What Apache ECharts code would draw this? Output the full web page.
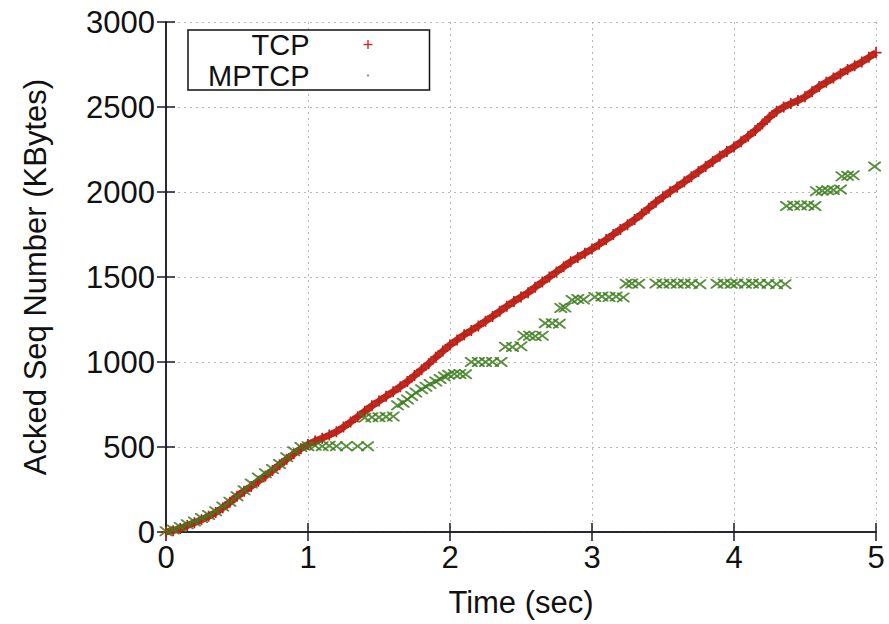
<!DOCTYPE html>
<html>
<head>
<meta charset="utf-8">
<script src="https://cdn.jsdelivr.net/npm/echarts@6/dist/echarts.min.js"></script>
<style>
html,body{margin:0;padding:0;background:#fff;}
#chart{width:889px;height:624px;}
</style>
</head>
<body>
<div id="chart"></div>
<script>
// ---- data ----
const seriesNames = ['TCP', 'MPTCP'];
const xTickLabels = ['0', '1', '2', '3', '4', '5'];
const yTickLabels = ['0', '500', '1000', '1500', '2000', '2500', '3000'];

const tcpTime = [0.00,0.05,0.10,0.15,0.20,0.25,0.30,0.35,0.40,0.45,0.50,0.55,0.60,0.65,0.70,0.75,0.80,0.85,0.90,0.95,
  1.00,1.05,1.10,1.15,1.20,1.25,1.30,1.35,1.40,1.45,1.50,1.55,1.60,1.65,1.70,1.75,1.80,1.85,1.90,1.95,
  2.00,2.05,2.10,2.15,2.20,2.25,2.30,2.35,2.40,2.45,2.50,2.55,2.60,2.65,2.70,2.75,2.80,2.85,2.90,2.95,
  3.00,3.05,3.10,3.15,3.20,3.25,3.30,3.35,3.40,3.45,3.50,3.55,3.60,3.65,3.70,3.75,3.80,3.85,3.90,3.95,
  4.00,4.05,4.10,4.15,4.20,4.25,4.30,4.35,4.40,4.45,4.50,4.55,4.60,4.65,4.70,4.75,4.80,4.85,4.90,4.95,5.00];
const tcpSeq = [0,8,20,38,55,72,92,115,142,175,210,240,268,298,330,362,395,428,460,490,
  515,535,552,570,590,617,647,678,710,742,770,798,825,855,885,920,955,990,1028,1064,
  1100,1130,1160,1186,1212,1240,1268,1298,1328,1356,1382,1408,1440,1470,1500,1530,1560,1590,1615,1640,
  1665,1692,1720,1750,1780,1808,1838,1870,1905,1940,1972,2002,2030,2060,2090,2120,2150,2180,2210,2238,
  2265,2295,2328,2362,2400,2440,2475,2500,2520,2538,2560,2590,2620,2645,2670,2695,2720,2742,2765,2792,2820];

const mptcpTime = [0.00,0.05,0.10,0.15,0.20,0.25,0.30,0.35,0.40,0.45,0.50,0.55,0.60,0.65,0.70,0.75,0.80,0.85,0.90,0.95,
  1.00,1.05,1.10,1.15,1.20,1.27,1.35,1.42,
  1.40,1.45,1.50,1.55,1.60,
  1.63,1.67,1.70,1.73,1.76,1.80,1.83,1.86,1.90,1.93,1.96,1.99,2.03,2.07,2.11,
  2.15,2.20,2.25,2.30,2.36,
  2.39,2.44,2.50,
  2.52,2.56,2.60,2.65,
  2.67,2.72,2.77,
  2.78,2.81,
  2.86,2.90,2.94,
  3.02,3.07,3.12,3.17,3.22,
  3.24,3.28,3.33,3.45,3.50,3.55,3.60,3.65,3.70,3.76,
  3.88,3.93,3.98,4.02,4.08,4.13,4.18,4.24,4.30,4.36,
  4.37,4.42,4.47,4.52,4.57,
  4.58,4.62,4.66,4.70,4.75,
  4.76,4.80,4.84,
  4.99];
const mptcpSeq = [5,15,30,45,62,82,100,122,150,178,210,245,285,320,345,370,400,440,475,500,
  505,508,505,508,505,505,505,505,
  672,675,675,678,680,
  745,760,780,800,820,840,855,870,885,900,915,925,930,930,928,
  1000,1000,1000,1000,1000,
  1090,1088,1092,
  1155,1155,1152,1155,
  1228,1228,1225,
  1318,1320,
  1365,1370,1368,
  1382,1385,1382,1385,1380,
  1460,1462,1460,1462,1460,1462,1460,1462,1460,1458,
  1460,1462,1460,1462,1460,1462,1460,1460,1458,1458,
  1918,1920,1920,1922,1918,
  2005,2008,2010,2012,2015,
  2092,2095,2098,
  2150];

// ---- build chart ----
const FONT = 'Liberation Sans, Arial, sans-serif';
const FS = 31;
const plusPath = 'path://M4.2,0H5.8V4.2H10V5.8H5.8V10H4.2V5.8H0V4.2H4.2Z';
const crossPath = 'path://M0,0L1.2,0L5,3.8L8.8,0L10,0L10,1.2L6.2,5L10,8.8L10,10L8.8,10L5,6.2L1.2,10L0,10L0,8.8L3.8,5L0,1.2Z';
const dotPath = 'path://M0,0M10,10M3.8,3.8H6.2V6.2H3.8Z';

const tcpData = tcpTime.map((t, i) => [t, tcpSeq[i]]);
const mptcpData = mptcpTime.map((t, i) => [t, mptcpSeq[i]]);

const xMin = +xTickLabels[0], xMax = +xTickLabels[xTickLabels.length - 1];
const yMin = +yTickLabels[0], yMax = +yTickLabels[yTickLabels.length - 1];
const yInterval = +yTickLabels[1] - +yTickLabels[0];
const xInterval = +xTickLabels[1] - +xTickLabels[0];

const axisLine = {show: true, lineStyle: {color: '#1a1a2a', width: 1.5}};
const tick = {show: true, inside: true, length: 9, lineStyle: {color: '#1a1a2a', width: 1.5}};
const chart = echarts.init(document.getElementById('chart'), null, {renderer: 'svg'});
chart.setOption({
  animation: false,
  backgroundColor: '#fff',
  textStyle: {fontFamily: FONT},
  grid: {left: 166, right: 13, top: 22, bottom: 92, containLabel: false},
  legend: {
    left: 188, top: 30,
    orient: 'vertical',
    align: 'right',
    selectedMode: false,
    backgroundColor: '#fff',
    borderColor: '#111',
    borderWidth: 1.5,
    borderRadius: 0,
    padding: [0, 57, 0, 20],
    itemGap: 2,
    itemWidth: 9,
    itemHeight: 9,
    textStyle: {fontFamily: FONT, fontSize: 29, lineHeight: 29, color: '#111', padding: [0, 49, 0, 0]},
    data: [
      {name: seriesNames[0], icon: plusPath, itemStyle: {color: '#d0302a'}},
      {name: seriesNames[1], icon: dotPath, itemStyle: {color: '#7f9a55'}}
    ]
  },
  xAxis: [{
    type: 'value', min: xMin, max: xMax, interval: xInterval,
    name: 'Time (sec)', nameLocation: 'middle', nameGap: 55,
    nameTextStyle: {fontFamily: FONT, fontSize: FS, color: '#111'},
    axisLine: axisLine, axisTick: tick,
    axisLabel: {fontFamily: FONT, fontSize: FS, color: '#111', margin: 10,
      formatter: (v) => xTickLabels[Math.round((v - xMin) / xInterval)]},
    splitLine: {show: true, lineStyle: {color: '#b8b8b8', type: [2, 4], width: 1}}
  }, {
    type: 'value', min: xMin, max: xMax, interval: xInterval, position: 'top',
    axisLine: axisLine, axisTick: tick,
    axisLabel: {show: false}, splitLine: {show: false}
  }],
  yAxis: [{
    type: 'value', min: yMin, max: yMax, interval: yInterval,
    name: 'Acked Seq Number (KBytes)', nameLocation: 'middle', nameGap: 115,
    nameTextStyle: {fontFamily: FONT, fontSize: FS, color: '#111'},
    axisLine: axisLine, axisTick: tick,
    axisLabel: {fontFamily: FONT, fontSize: FS, color: '#111', margin: 11,
      formatter: (v) => yTickLabels[Math.round((v - yMin) / yInterval)]},
    splitLine: {show: true, lineStyle: {color: '#b8b8b8', type: [2, 4], width: 1}}
  }, {
    type: 'value', min: yMin, max: yMax, interval: yInterval, position: 'right',
    axisLine: axisLine, axisTick: tick,
    axisLabel: {show: false}, splitLine: {show: false}
  }],
  series: [{
    name: seriesNames[0], type: 'line', data: tcpData,
    xAxisIndex: 0, yAxisIndex: 0,
    symbol: plusPath, symbolSize: 11, showSymbol: true,
    lineStyle: {color: '#c42a20', width: 7},
    itemStyle: {color: '#b82218'},
    z: 2
  }, {
    name: seriesNames[1], type: 'scatter', data: mptcpData,
    xAxisIndex: 0, yAxisIndex: 0,
    symbol: crossPath, symbolSize: [13, 10],
    itemStyle: {color: '#3d7d1e', opacity: 0.85},
    z: 3
  }]
});
</script>
</body>
</html>
